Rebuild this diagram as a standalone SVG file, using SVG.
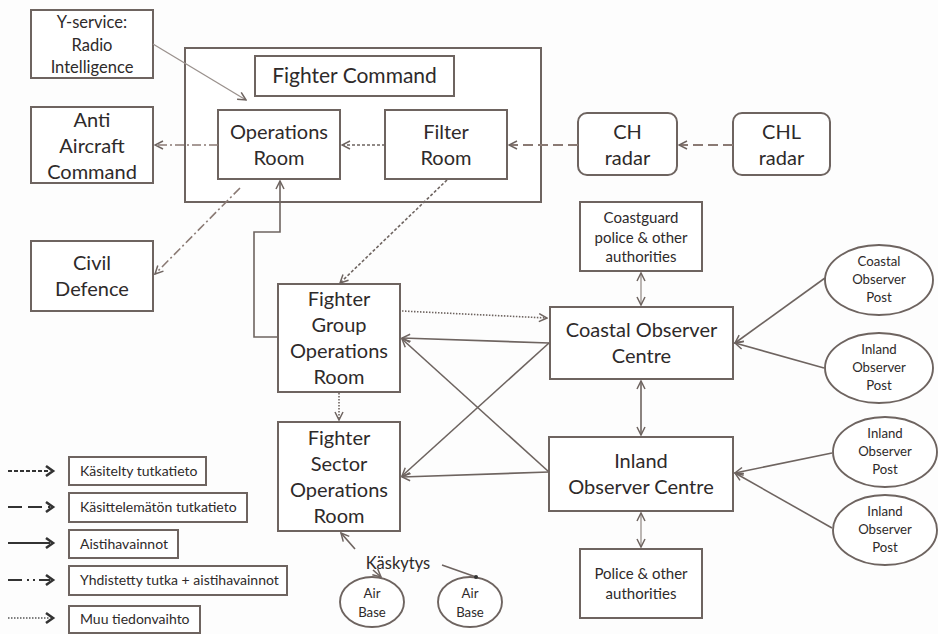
<svg xmlns="http://www.w3.org/2000/svg" width="938" height="634" viewBox="0 0 938 634">
  <style>
    .box { fill: #ffffff; stroke: #6e6460; stroke-width: 2; }
    .oval { fill: #ffffff; stroke: #6e6460; stroke-width: 1.9; }
    .t { font-family: Lato, "Open Sans", "Liberation Sans", sans-serif; fill: #2e2a2a; text-anchor: middle; }
    .big { font-size: 20px; }
    .title { font-size: 21px; }
    .ys { font-size: 16.5px; }
    .small { font-size: 15px; }
    .tiny { font-size: 13.2px; }
    .leg { font-size: 14px; text-anchor: start; }
    .c { fill: none; stroke: #6e6460; stroke-width: 1.6; }
    .light { stroke: #9a918d; stroke-width: 1.3; }
    .processed { stroke-dasharray: 3 2; }
    .raw { stroke-dasharray: 10 5; stroke: #8a7a74; stroke-width: 2; }
    .combined { stroke-dasharray: 9 3 2 3; stroke: #8a7a74; stroke-width: 1.6; }
    .other { stroke-dasharray: 1.5 1.5; }
    .legline { fill: none; stroke: #333; stroke-width: 2; }
    .leghead { fill: none; stroke: #333; stroke-width: 2.6; stroke-linejoin: miter; }
  </style>
  <defs>
    <marker id="arr" viewBox="0 0 10 10" refX="9" refY="5" markerWidth="10" markerHeight="10" markerUnits="userSpaceOnUse" orient="auto-start-reverse">
      <path d="M1,1 L9,5 L1,9" fill="none" stroke="#6e6460" stroke-width="1.5"/>
    </marker>
    <marker id="dot" viewBox="0 0 10 10" refX="5" refY="5" markerWidth="5" markerHeight="5" markerUnits="userSpaceOnUse">
      <circle cx="5" cy="5" r="4" fill="#333"/>
    </marker>
  </defs>

  <rect width="938" height="634" fill="#fdfdfd"/>

  <!-- Fighter Command enclosure -->
  <g id="fighter-command">
    <rect class="box" x="185" y="48" width="356" height="154"/>
    <rect class="box" x="255" y="56" width="199" height="40"/>
    <text class="t title" x="354.5" y="83">Fighter Command</text>
  </g>

  <g id="y-service">
    <rect class="box" x="31" y="10" width="122" height="68"/>
    <text class="t ys" x="92" y="28">Y-service:</text>
    <text class="t ys" x="92" y="51">Radio</text>
    <text class="t ys" x="92" y="73">Intelligence</text>
  </g>

  <g id="anti-aircraft">
    <rect class="box" x="31" y="107" width="122" height="76"/>
    <text class="t big" x="92" y="127">Anti</text>
    <text class="t big" x="92" y="153">Aircraft</text>
    <text class="t big" x="92" y="179">Command</text>
  </g>

  <g id="civil-defence">
    <rect class="box" x="31" y="241" width="122" height="70"/>
    <text class="t big" x="92" y="270">Civil</text>
    <text class="t big" x="92" y="296">Defence</text>
  </g>

  <g id="operations-room">
    <rect class="box" x="218" y="110" width="122" height="69"/>
    <text class="t big" x="279" y="139">Operations</text>
    <text class="t big" x="279" y="165">Room</text>
  </g>

  <g id="filter-room">
    <rect class="box" x="385" y="110" width="122" height="69"/>
    <text class="t big" x="446" y="139">Filter</text>
    <text class="t big" x="446" y="165">Room</text>
  </g>

  <g id="ch-radar">
    <rect class="box" x="578" y="113" width="99" height="62" rx="9"/>
    <text class="t big" x="627.5" y="139">CH</text>
    <text class="t big" x="627.5" y="165">radar</text>
  </g>

  <g id="chl-radar">
    <rect class="box" x="733" y="113" width="97" height="62" rx="9"/>
    <text class="t big" x="781.5" y="139">CHL</text>
    <text class="t big" x="781.5" y="165">radar</text>
  </g>

  <g id="coastguard">
    <rect class="box" x="580" y="202" width="122" height="69"/>
    <text class="t small" x="641" y="223">Coastguard</text>
    <text class="t small" x="641" y="243">police &amp; other</text>
    <text class="t small" x="641" y="262">authorities</text>
  </g>

  <g id="coastal-observer-centre">
    <rect class="box" x="550" y="307" width="183" height="72"/>
    <text class="t big" x="641.5" y="337">Coastal Observer</text>
    <text class="t big" x="641.5" y="363">Centre</text>
  </g>

  <g id="inland-observer-centre">
    <rect class="box" x="549" y="437" width="184" height="74"/>
    <text class="t big" x="641" y="468">Inland</text>
    <text class="t big" x="641" y="494">Observer Centre</text>
  </g>

  <g id="police">
    <rect class="box" x="580" y="549" width="122" height="69"/>
    <text class="t small" x="641" y="579">Police &amp; other</text>
    <text class="t small" x="641" y="599">authorities</text>
  </g>

  <g id="fighter-group">
    <rect class="box" x="278" y="284" width="122" height="108"/>
    <text class="t big" x="339" y="306">Fighter</text>
    <text class="t big" x="339" y="332">Group</text>
    <text class="t big" x="339" y="358">Operations</text>
    <text class="t big" x="339" y="384">Room</text>
  </g>

  <g id="fighter-sector">
    <rect class="box" x="278" y="422" width="122" height="109"/>
    <text class="t big" x="339" y="445">Fighter</text>
    <text class="t big" x="339" y="471">Sector</text>
    <text class="t big" x="339" y="497">Operations</text>
    <text class="t big" x="339" y="523">Room</text>
  </g>

  <g id="coastal-observer-post">
    <ellipse class="oval" cx="879" cy="280" rx="54" ry="35"/>
    <text class="t tiny" x="879" y="266">Coastal</text>
    <text class="t tiny" x="879" y="284">Observer</text>
    <text class="t tiny" x="879" y="302">Post</text>
  </g>

  <g id="inland-observer-post-1">
    <ellipse class="oval" cx="879" cy="368" rx="54" ry="35"/>
    <text class="t tiny" x="879" y="354">Inland</text>
    <text class="t tiny" x="879" y="372">Observer</text>
    <text class="t tiny" x="879" y="390">Post</text>
  </g>

  <g id="inland-observer-post-2">
    <ellipse class="oval" cx="885" cy="452" rx="52" ry="35"/>
    <text class="t tiny" x="885" y="438">Inland</text>
    <text class="t tiny" x="885" y="456">Observer</text>
    <text class="t tiny" x="885" y="474">Post</text>
  </g>

  <g id="inland-observer-post-3">
    <ellipse class="oval" cx="885" cy="530" rx="52" ry="35"/>
    <text class="t tiny" x="885" y="516">Inland</text>
    <text class="t tiny" x="885" y="534">Observer</text>
    <text class="t tiny" x="885" y="552">Post</text>
  </g>

  <g id="air-base-1">
    <ellipse class="oval" cx="372" cy="602" rx="32" ry="25"/>
    <text class="t tiny" x="372" y="598">Air</text>
    <text class="t tiny" x="372" y="617">Base</text>
  </g>

  <g id="air-base-2">
    <ellipse class="oval" cx="470" cy="602" rx="32" ry="25"/>
    <text class="t tiny" x="470" y="598">Air</text>
    <text class="t tiny" x="470" y="617">Base</text>
  </g>

  <text class="t" x="398" y="569" style="font-size:16.5px">Käskytys</text>

  <!-- Connectors -->
  <g id="connectors">
    <line class="c light" x1="153" y1="44" x2="246" y2="100" marker-end="url(#arr)"/>
    <line class="c combined" x1="218" y1="145" x2="155" y2="145" marker-end="url(#arr)"/>
    <line class="c combined" x1="240" y1="188" x2="155" y2="274" marker-end="url(#arr)"/>
    <line class="c processed" x1="385" y1="145" x2="342" y2="145" marker-end="url(#arr)"/>
    <line class="c raw" x1="578" y1="145" x2="509" y2="145" marker-end="url(#arr)"/>
    <line class="c raw" x1="733" y1="145" x2="679" y2="145" marker-end="url(#arr)"/>
    <line class="c processed" x1="447" y1="180" x2="340" y2="283" marker-end="url(#arr)"/>
    <polyline class="c" points="278,337 254,337 254,232 280,232 280,181" marker-end="url(#arr)"/>
    <line class="c other" x1="402" y1="311" x2="547" y2="318" marker-end="url(#arr)"/>
    <line class="c other" x1="339" y1="393" x2="339" y2="420" marker-end="url(#arr)"/>
    <line class="c" x1="549" y1="343" x2="402" y2="338" marker-end="url(#arr)"/>
    <line class="c" x1="549" y1="343" x2="402" y2="476" marker-end="url(#arr)"/>
    <line class="c" x1="549" y1="472" x2="402" y2="339" marker-end="url(#arr)"/>
    <line class="c" x1="549" y1="472" x2="402" y2="477" marker-end="url(#arr)"/>
    <line class="c light" x1="641" y1="273" x2="641" y2="305" marker-start="url(#arr)" marker-end="url(#arr)"/>
    <line class="c" x1="641" y1="381" x2="641" y2="435" marker-start="url(#arr)" marker-end="url(#arr)"/>
    <line class="c light" x1="641" y1="513" x2="641" y2="547" marker-start="url(#arr)" marker-end="url(#arr)"/>
    <line class="c" x1="825" y1="278" x2="735" y2="343" marker-end="url(#arr)"/>
    <line class="c" x1="824" y1="368" x2="735" y2="343" marker-end="url(#arr)"/>
    <line class="c" x1="832" y1="453" x2="735" y2="473" marker-end="url(#arr)"/>
    <line class="c" x1="832" y1="528" x2="735" y2="473" marker-end="url(#arr)"/>
    <line class="c" x1="355" y1="549" x2="341" y2="533" marker-end="url(#arr)"/>
    <line class="c" x1="373" y1="570" x2="381" y2="577" marker-end="url(#arr)"/>
    <line class="c" x1="442" y1="565" x2="476" y2="577" marker-end="url(#dot)"/>
  </g>

  <!-- Legend: line samples with chevron heads -->
  <g id="legend">
    <line class="legline" x1="8" y1="471" x2="50" y2="471" style="stroke-dasharray:4 2"/>
    <polyline class="leghead" points="46,466 53,471 46,476"/>
    <line class="legline" x1="8" y1="507" x2="50" y2="507" style="stroke-dasharray:14 6"/>
    <polyline class="leghead" points="46,502 53,507 46,512"/>
    <line class="legline" x1="8" y1="543" x2="50" y2="543"/>
    <polyline class="leghead" points="46,538 53,543 46,548"/>
    <line class="legline" x1="8" y1="580" x2="50" y2="580" style="stroke-dasharray:14 5 2 4 2 4"/>
    <polyline class="leghead" points="46,575 53,580 46,585"/>
    <line class="legline" x1="8" y1="618" x2="50" y2="618" style="stroke:#555;stroke-width:1.6;stroke-dasharray:1.5 1.5"/>
    <polyline class="leghead" points="46,613 53,618 46,623"/>

    <rect class="box" x="69" y="457" width="137" height="28"/>
    <text class="t leg" x="80" y="476">Käsitelty tutkatieto</text>
    <rect class="box" x="69" y="493" width="178" height="29"/>
    <text class="t leg" x="80" y="512">Käsittelemätön tutkatieto</text>
    <rect class="box" x="69" y="530" width="109" height="28"/>
    <text class="t leg" x="80" y="549">Aistihavainnot</text>
    <rect class="box" x="69" y="566" width="218" height="29"/>
    <text class="t leg" x="80" y="585">Yhdistetty tutka + aistihavainnot</text>
    <rect class="box" x="69" y="606" width="131" height="27"/>
    <text class="t leg" x="80" y="624">Muu tiedonvaihto</text>
  </g>
</svg>
